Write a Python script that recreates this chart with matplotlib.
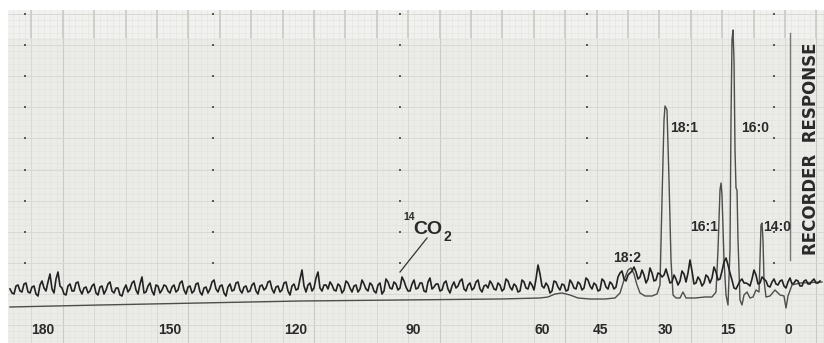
import matplotlib
matplotlib.use('Agg')
import matplotlib.pyplot as plt
from matplotlib.patches import Rectangle
import numpy as np

# ---------------- data (chart position along paper, recorder response) ----------------
tick_labels = ['180', '150', '120', '90', '60', '45', '30', '15', '0']
tick_pos = [43, 170, 296, 413, 542, 601, 665, 728, 788]

# mass (thermal conductivity) trace
mass_x = [10, 100, 200, 300, 400, 500, 540, 548, 555, 562, 570, 578, 590, 605, 615,
          620, 624, 628, 631, 634, 637, 640, 645, 652, 657, 660, 662, 664, 665, 667,
          669, 671, 673, 676, 680, 683, 686, 695, 705, 712, 716, 718, 720, 721, 722,
          724, 726, 728, 730, 731, 732, 733, 734, 735, 736, 737, 738, 740, 742, 744,
          747, 750, 753, 756, 759, 760, 761, 762, 763, 764, 766, 770, 775, 780, 784,
          786, 788, 792, 800, 822]
mass_y = [36, 38, 40, 42, 43, 44, 45, 46, 49, 50, 48, 45, 44, 44, 45,
          50, 63, 73, 75, 69, 58, 50, 47, 47, 49, 58, 143, 223, 237, 233,
          163, 83, 48, 45, 45, 51, 45, 45, 46, 46, 51, 93, 153, 160, 148,
          83, 48, 38, 93, 223, 303, 313, 283, 193, 155, 153, 103, 43, 38, 48,
          51, 45, 46, 53, 51, 83, 118, 120, 103, 63, 46, 47, 53, 48, 47,
          35, 47, 58, 60, 61]

# radioactivity trace, read every 4 chart units from 10 ...
noise_a = [54, 49, 58, 51, 60, 50, 57, 47, 62, 52, 69, 50, 71, 55, 48, 59, 52, 61, 49, 56,
           52, 59, 48, 57, 53, 61, 50, 55, 47, 58, 54, 62, 49, 66, 51, 60, 48, 57, 53, 57,
           50, 58, 53, 62, 49, 57, 52, 60, 48, 56, 54, 63, 51, 58, 47, 59, 53, 61, 50, 57,
           52, 60, 49, 58, 55, 62, 50, 57, 53, 61, 48, 59, 54, 73, 51, 60, 55, 71, 52, 58,
           61, 53, 59, 50, 62, 55, 57, 51, 63, 54, 60, 52, 58, 49, 64, 55, 61, 53, 66, 56,
           52, 63, 55, 60, 51, 65, 56, 59, 53, 62, 50, 61, 57, 64, 52, 60, 55, 63, 51, 58,
           62, 54, 60, 52, 64, 56, 59, 51, 63, 55, 61, 53, 78, 57, 60, 50, 62, 56, 59, 52,
           63, 55, 61, 53, 65, 57, 60, 52, 64, 56, 61, 54, 66, 72, 62, 70, 76, 64, 73, 60,
           75, 62, 70, 66, 74, 60, 68, 58, 72, 61, 83, 59, 66, 57, 68, 60, 76, 63, 72, 85,
           70, 55, 58, 64, 60, 57, 73, 59, 66, 62, 56, 64, 58, 63, 55, 65, 60, 62, 57, 63,
           59, 64, 60]
# ... and in between (from 12)
noise_b = [50, 57, 52, 59, 51, 56, 49, 58, 55, 61, 54, 64, 57, 49, 57, 52, 60, 53, 55, 50,
           57, 50, 56, 49, 59, 52, 55, 48, 54, 51, 60, 53, 59, 50, 57, 52, 58, 50, 58, 52,
           56, 51, 60, 53, 56, 50, 59, 51, 55, 50, 61, 54, 57, 50, 56, 52, 60, 53, 56, 51,
           58, 52, 57, 53, 61, 54, 56, 51, 60, 52, 57, 53, 64, 57, 58, 52, 65, 55, 58, 54,
           58, 52, 57, 53, 60, 51, 58, 54, 59, 52, 58, 50, 60, 52, 61, 54, 59, 55, 62, 52,
           59, 54, 60, 52, 61, 54, 59, 52, 60, 54, 57, 55, 62, 54, 58, 53, 61, 54, 57, 55,
           59, 53, 58, 54, 62, 53, 57, 52, 61, 54, 58, 64, 69, 55, 57, 52, 61, 53, 58, 53,
           60, 54, 59, 55, 63, 54, 58, 53, 62, 54, 59, 56, 70, 64, 68, 72, 71, 66, 68, 64,
           70, 63, 69, 68, 67, 61, 64, 62, 69, 70, 72, 60, 63, 60, 66, 65, 71, 64, 81, 78,
           63, 54, 62, 60, 59, 64, 68, 60, 64, 57, 61, 59, 62, 57, 61, 59, 63, 57, 62, 59,
           62, 60, 62]
noise_y = np.empty(len(noise_a) + len(noise_b))
noise_y[0::2] = noise_a
noise_y[1::2] = noise_b
noise_x = 10 + 2 * np.arange(len(noise_y))

peak_names = ['18:2', '18:1', '16:1', '16:0', '14:0']

# ---------------- figure ----------------
fig = plt.figure(figsize=(8.24, 3.43), dpi=100)
ax = fig.add_axes([0, 0, 1, 1])
ax.set_xlim(0, 824)
ax.set_ylim(0, 343)
ax.axis('off')

paper_top = 333
ax.add_patch(Rectangle((8, 0), 816, paper_top, facecolor='#ebebe8', edgecolor='none', zorder=0))
ax.add_patch(Rectangle((8, 305), 816, paper_top - 305, facecolor='#f1f1ef', edgecolor='none', zorder=0.1))

# chart paper grid
step_v = 31.4
vx = np.arange(0, 824, step_v / 5)
ax.vlines(vx[vx > 8], 0, paper_top, color='#e1e1dd', lw=0.4, zorder=0.2)
vmaj = np.arange(0, 824, step_v)
ax.vlines(vmaj[vmaj > 8], 0, paper_top, color='#d6d6d2', lw=0.6, zorder=0.3)
vhv = np.arange(62.8, 824, step_v * 4)
ax.vlines(vhv, 0, paper_top, color='#cbcbc6', lw=0.8, zorder=0.3)
ax.vlines(vmaj[vmaj > 8], 305, paper_top, color='#cfcfca', lw=1.4, zorder=0.35)
step_h = 31.1
hy = 343 - (14 + step_h * np.arange(11))
hminor = np.arange(hy.min() - step_h, paper_top, step_h / 5)
ax.hlines(hminor[hminor > 0], 8, 824, color='#e1e1dd', lw=0.4, zorder=0.2)
ax.hlines(hy, 8, 824, color='#d6d6d2', lw=0.6, zorder=0.3)
dot_x = [25, 213, 400, 587, 774]
for yy in hy[:9]:
    ax.plot(dot_x, [yy] * len(dot_x), 's', ms=1.6, color='#5a5a56', mew=0, zorder=0.4)

# traces
ax.plot(mass_x, mass_y, color='#4d4d4d', lw=1.0, zorder=2)
ax.plot(noise_x, noise_y, color='#222222', lw=1.2, zorder=3)

# right-hand border line and axis title
ax.plot([790, 790], [83, 310], color='#777777', lw=1.0, zorder=1)
ax.text(811, 194, 'RECORDER  RESPONSE', rotation=90, ha='center', va='center',
        fontsize=12, fontweight='bold', family='DejaVu Sans', color='#2a2a2a')

# time tick labels
for p, lab in zip(tick_pos, tick_labels):
    ax.text(p, 13, lab, ha='center', va='center', fontsize=10, family='Liberation Sans',
            fontweight='bold', color='#2a2a2a')

# peak labels
label_xy = {'18:2': (627, 85), '18:1': (684, 215), '16:1': (704, 116),
            '16:0': (755, 215), '14:0': (777, 116)}
for name in peak_names:
    x, y = label_xy[name]
    ax.text(x, y, name, ha='center', va='center', fontsize=10, family='Liberation Sans',
            fontweight='bold', color='#2a2a2a')

# 14CO2 label with leader line
ax.text(409, 126, '14', ha='center', va='center', fontsize=7.5, family='Liberation Sans',
        fontweight='bold', color='#2a2a2a')
ax.text(428, 113, 'CO', ha='center', va='center', fontsize=14, family='Liberation Sans',
        fontweight='bold', color='#2a2a2a')
ax.text(447, 106, '2', ha='center', va='center', fontsize=10, family='Liberation Sans',
        fontweight='bold', color='#2a2a2a')
ax.plot([427, 400], [105, 71], color='#333333', lw=0.9, zorder=3)

fig.savefig('out.png', dpi=100)
